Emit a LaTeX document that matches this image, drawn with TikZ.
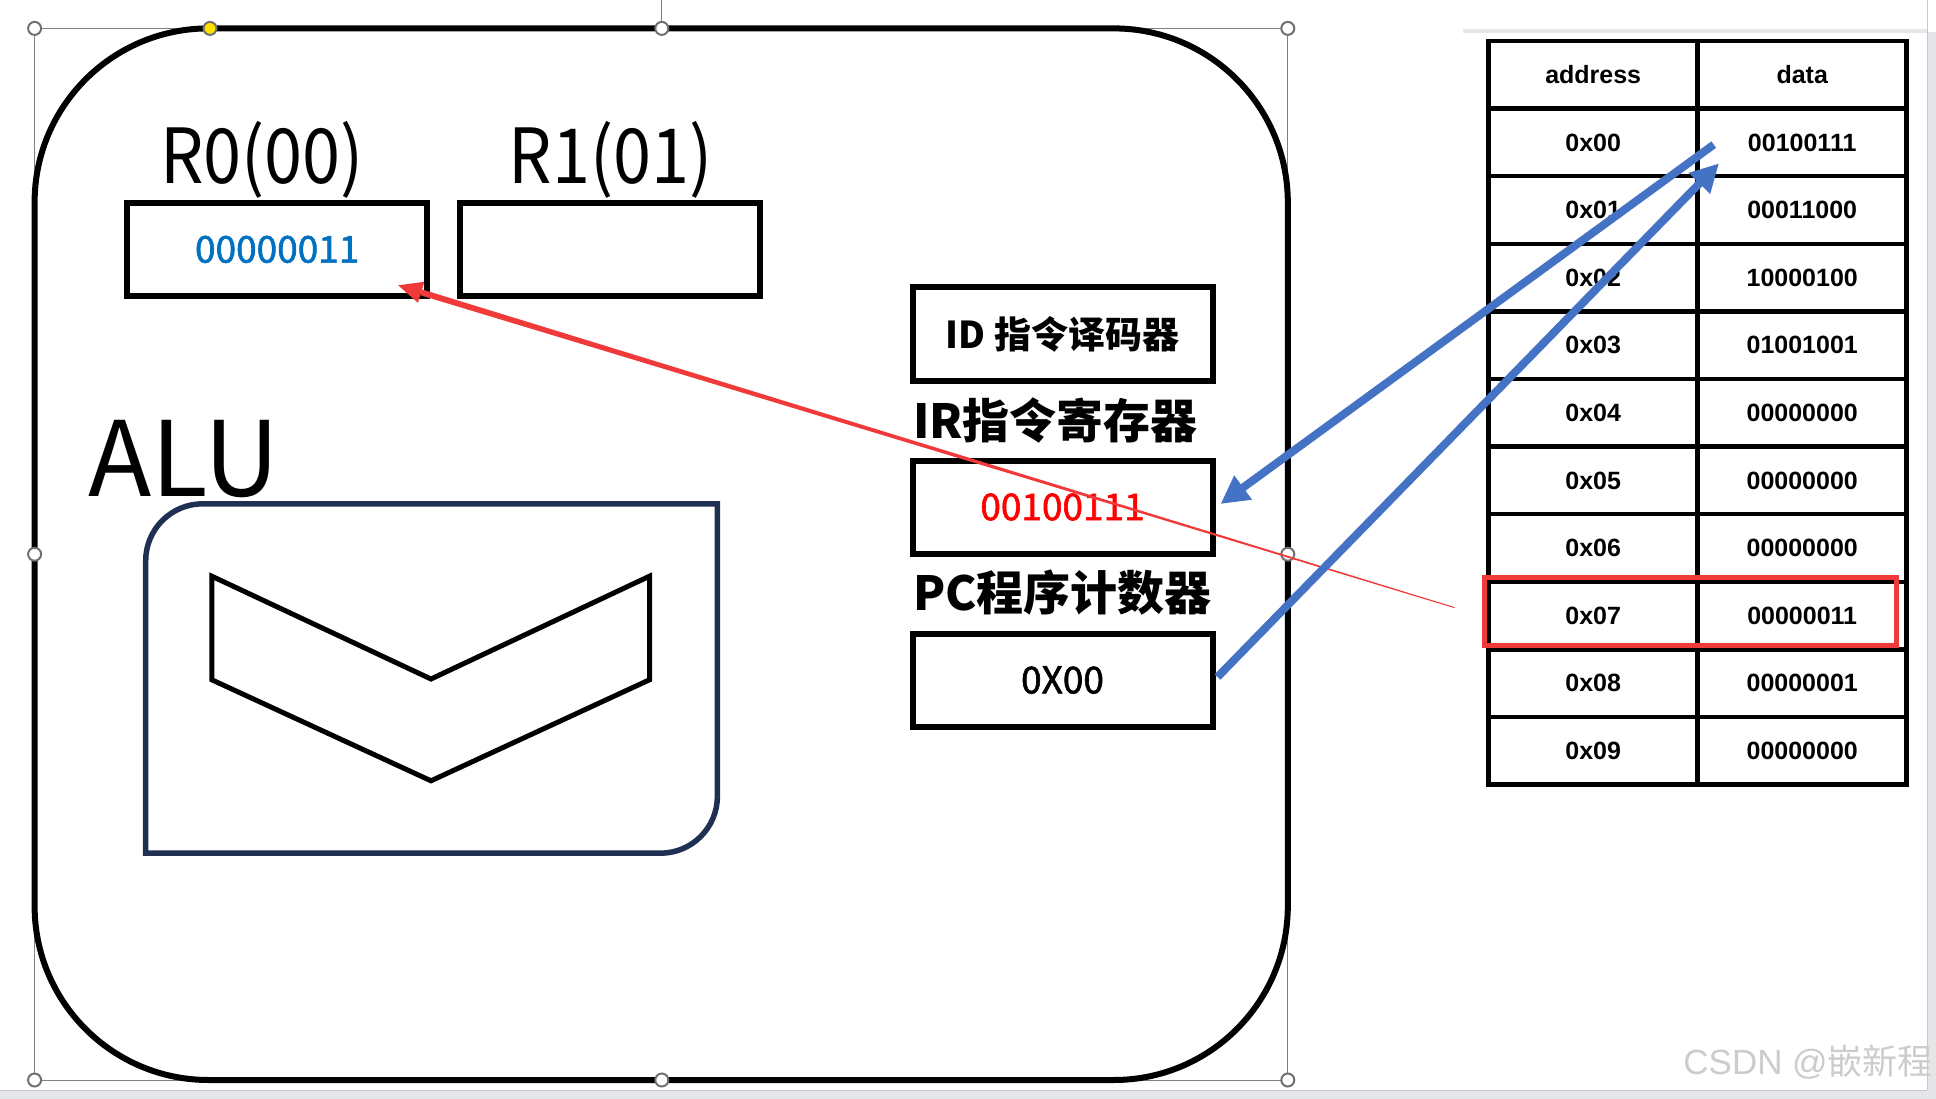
\documentclass[tikz,border=0pt]{standalone}
\usepackage{fontspec}
\setmainfont{Noto Sans CJK SC}
\newfontfamily\tabfont{Liberation Sans}
\newfontfamily\condfont{Noto Sans CJK SC}[FakeStretch=0.9]
\newfontfamily\digfont{Noto Sans CJK SC}[FakeBold=1.6]
\usetikzlibrary{arrows.meta,calc}
\definecolor{navy}{RGB}{31,48,82}
\definecolor{pptblue}{RGB}{68,114,196}
\definecolor{arrowred}{RGB}{240,58,58}
\definecolor{txtblue}{RGB}{0,112,192}
\definecolor{txtred}{RGB}{255,0,0}
\definecolor{handlegray}{RGB}{112,112,112}
\definecolor{framegray}{RGB}{228,230,234}
\definecolor{hndyellow}{RGB}{255,226,0}
\newcommand\fs[1]{\fontsize{#1}{#1}\selectfont}
\begin{document}
\begin{tikzpicture}[x=1pt,y=-1pt,
  regbox/.style={draw, line width=6pt, minimum width=300pt, minimum height=93pt, inner sep=0pt},
  digits/.style={font=\digfont\fs{37}},
  cell/.style={draw, line width=4.5pt, minimum width=209pt, minimum height=67.6pt, inner sep=0pt, font=\tabfont\bfseries\fs{25}},
  handle/.style={circle, draw=handlegray, fill=white, line width=2pt, minimum size=13pt, inner sep=0pt},
  bluearrow/.style={pptblue, line width=8pt, -{Triangle[length=28pt,width=28pt]}},
  biglabel/.style={anchor=base, inner sep=0pt, font=\condfont\fs{76}},
  cjklabel/.style={anchor=base west, inner sep=0pt, font=\bfseries\fs{47}}
]
\useasboundingbox (0,0) rectangle (1936,1099);
\fill[white] (0,0) rectangle (1936,1099);
% window frame
\fill[framegray] (0,1090) rectangle (1936,1099);
\fill[framegray] (1928,32) rectangle (1936,1099);
\draw[gray!45, line width=1pt] (0,1090) -- (1927,1090);
\draw[gray!45, line width=1pt] (1927,0) -- (1927,1090);
\draw[framegray, line width=4pt] (1463,31.5) -- (1927,31.5);
% selection frame
\draw[gray, line width=0.8pt] (34.6,28.4) rectangle (1287.8,1080);
\draw[gray, line width=0.8pt] (661.8,0) -- (661.8,28.4);
% outer CPU shape
\node[draw, line width=6pt, rounded corners=174pt, minimum width=1253.2pt, minimum height=1051.6pt, inner sep=0pt] (cpu) at (661.2,554.2) {};
% registers
\node[biglabel] (r0lbl) at (262,184) {R0(00)};
\node[biglabel] (r1lbl) at (610.5,184) {R1(01)};
\node[regbox, digits, text=txtblue] (R0) at (277.2,249.4) {00000011};
\node[regbox] (R1) at (610,249.4) {};
% ALU
\node[anchor=base west, inner sep=0pt, font=\fs{104}] (alulbl) at (88,496) {ALU};
\draw[navy, line width=5.5pt] (145.7,560.8) .. controls (145.7,529.3) and (171.2,503.8) .. (202.7,503.8)
  -- (717.4,503.8) -- (717.4,796.2) .. controls (717.4,827.7) and (691.9,853.2) .. (660.4,853.2)
  -- (145.7,853.2) -- cycle;
\draw[line width=5pt] (211.8,576.2) -- (431,679) -- (649.5,576.2) -- (649.5,679.8)
  -- (431,780.8) -- (211.8,679.8) -- cycle;
% control unit
\node[regbox, font=\bfseries\fs{37}] (ID) at (1062.5,334) {ID 指令译码器};
\node[cjklabel] (irlbl) at (913,438) {IR指令寄存器};
\node[regbox, digits, text=txtred] (IR) at (1062.5,507) {00100111};
\node[cjklabel] (pclbl) at (913,610) {PC程序计数器};
\node[regbox, digits] (PC) at (1062.5,680) {0X00};
% memory table
\foreach \a/\d [count=\i] in {address/data,0x00/00100111,0x01/00011000,0x02/10000100,0x03/01001001,0x04/00000000,0x05/00000000,0x06/00000000,0x07/00000011,0x08/00000001,0x09/00000000}{
  \node[cell] (a\i) at (1593.2,{41+67.6*(\i-0.5)}) {\a};
  \node[cell] (d\i) at (1802.2,{41+67.6*(\i-0.5)}) {\d};
}
\node[draw=arrowred, line width=5pt, minimum width=411.7pt, minimum height=68.3pt, inner sep=0pt] (hl) at (1690.3,611.6) {};
% handles
\foreach \x/\y [count=\k] in {34.6/28.4,661.8/28.4,1287.8/28.4,34.6/554.2,1287.8/554.2,34.6/1080,661.8/1080,1287.8/1080}{
  \node[handle] (h\k) at (\x,\y) {};
}
\node[handle, fill=hndyellow] (hy) at (210,28.4) {};
% red tapered arrow: 0x07 -> R0
\coordinate (rS) at ($(hl.west)+(-27.5,-4)$);
\coordinate (rT) at ($(R0.south east)+(-32,-13.6)$);
\coordinate (rB) at ($(rT)!24pt!(rS)$);
\fill[arrowred] ($(rS)!0.5pt!90:(rT)$) -- ($(rB)!3pt!-90:(rS)$) -- ($(rB)!3pt!90:(rS)$) -- ($(rS)!0.5pt!-90:(rT)$) -- cycle;
\fill[arrowred] (rT) -- ($(rB)!11pt!90:(rS)$) -- ($(rB)!11pt!-90:(rS)$) -- cycle;
% blue arrows
\draw[bluearrow] ($(d2.west)+(18.3,2.2)$) -- ($(IR.east)+(5,-3)$);
\draw[bluearrow] ($(PC.east)+(2,-3)$) -- ($(d2.west)+(23.5,21)$);
% watermark
\node[anchor=base east, inner sep=0pt, text=gray!40, font=\fs{35}] (wm) at (1933,1074) {{\tabfont CSDN @}嵌新程};
\end{tikzpicture}
\end{document}
